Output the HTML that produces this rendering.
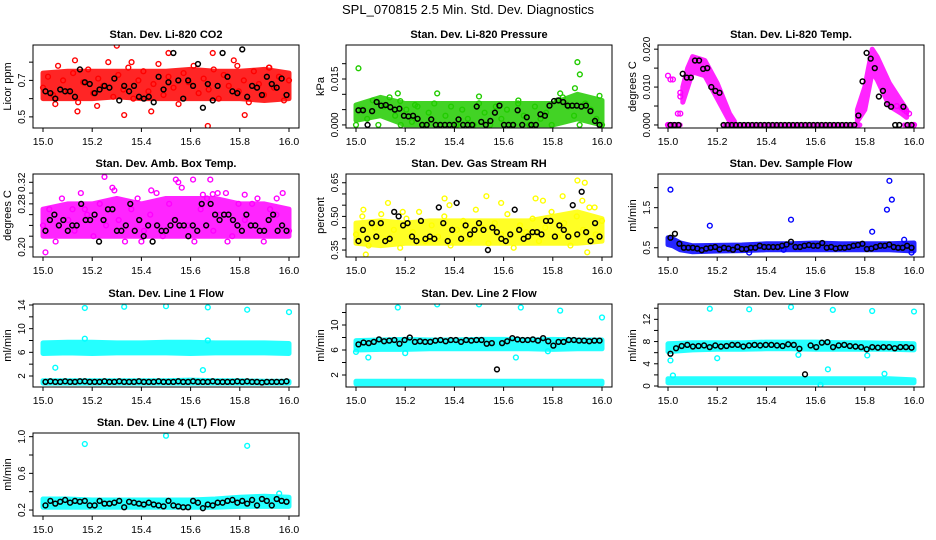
<!DOCTYPE html>
<html><head><meta charset="utf-8"><style>
html,body{margin:0;padding:0;background:#fff;}
svg{display:block;font-family:"Liberation Sans",sans-serif;}
</style></head><body>
<svg id="chart" width="936" height="540" viewBox="0 0 936 540">
<text x="468" y="14" text-anchor="middle" font-size="13">SPL_070815  2.5 Min. Std. Dev. Diagnostics</text>
</svg>
<script>
// ---- data ----
const bandX11 = [15.0,15.1,15.2,15.3,15.4,15.5,15.6,15.7,15.8,15.9,16.0];
const tempBX = [15.06,15.08,15.1,15.15,15.2,15.25,15.27];
const tempBX2 = [15.77,15.8,15.83,15.85,15.9,15.95,15.97];

const co2Lo = [.60,.60,.60,.61,.60,.60,.60,.60,.60,.59,.60];
const co2Hi = [.74,.75,.75,.75,.75,.75,.76,.75,.75,.76,.74];
const co2Col = [.66,.72,.62,.78,.70,.64,.74,.58,.69,.76,.63,.71,.67,.80,.61,.73,.65,.77,.60,.70,.75,.64,.68,.79,.62,.72,.66,.57,.74,.69,.78,.63,.71,.65,.76,.60,.73,.67,.81,.64,.70,.58,.75,.68,.62,.77,.66,.72,.59,.70];
const co2OutX = [15.30,15.51,15.69,15.13,15.67,15.33,15.82,15.44,15.14,15.05,15.36,15.92,15.79,15.22];
const co2OutY = [.89,.85,.85,.81,.45,.51,.51,.53,.53,.57,.80,.77,.78,.56];
const co2Blk = [.64,.63,.60,.65,.64,.64,.61,.76,.69,.68,.63,.65,.67,.66,.71,.59,.67,.64,.67,.61,.60,.61,.58,.72,.65,.69,.85,.70,.60,.70,.67,.79,.55,.68,.59,.67,.85,.72,.64,.63,.87,.61,.67,.66,.62,.72,.68,.66,.71,.62];

const presLo = [.0015,.003,.0,.0,0,0,0,0,0,.002,0];
const presHi = [.0065,.009,.007,.007,.007,.007,.007,.007,.007,.010,.008];
const presCol = [0,.005,.002,.008,0,.006,.009,.003,0,.005,.001,.006,0,.004,.007,0,.003,.006,0,.005,.002,0,.007,.004,0,.006,.002,.005,0,.007,.003,0,.006,.002,.004,0,.008,.009,.006,.003,0,.007,.005,.002,0];
const presOutX = [15.01,15.17,15.33,15.50,15.66,15.83,15.89,15.90,15.91,15.99,15.18,15.24];
const presOutY = [.0185,.0103,.0103,.0093,.0080,.0103,.0120,.0205,.0165,.0095,.0078,.0065];
const presBlk = [.0048,.0048,0,.0045,.0075,.0063,.0065,.0058,.0050,.0053,.0030,.0028,.0030,.0020,0,0,.0018,0,0,0,0,0,.0018,0,0,0,.0060,.0010,0,.0013,.0040,.0063,0,0,0,.0048,0,.0025,0,0,.0035,.0030,.0063,.0078,.0080,.0075,.0063,.0063,.0063,.0060,.0063,.0045,.0013,0];

const tempLo = [.006,.010,.014,.013,.007,.001,0];
const tempHi = [.010,.015,.018,.017,.011,.003,.001];
const tempLo2 = [.001,.004,.014,.012,.005,.003,.002];
const tempHi2 = [.004,.010,.020,.018,.011,.006,.004];
const tempZeroX = [15.0,15.05];
const tempZero = [0,0];
const tempZeroX2 = [15.23,15.78];
const tempZero2 = [0,0];
const tempZeroX3 = [15.96,16.0];
const tempZero3 = [0,0];
const tempCol = [.013,.012,.012,0,0,0,.003,.003,.0075,.0085,.0045,.0040,.0035,.0030,0,0,.005];
const tempColX = [15.00,15.01,15.02,15.00,15.02,15.04,15.04,15.05,15.05,15.05,15.95,15.96,15.97,15.98,15.99,16.0,15.93];
const tempBlk = [0,0,0,.0135,.0125,.0125,.017,.017,.0148,.015,.010,.009,.0085,0,0,0,0,0,0,0,0,0,0,0,0,0,0,0,0,0,0,0,0,0,0,0,0,0,0,0,0,0,0,0,0,0,.0025,.0115,.019,.0175,.0150,.0075,.0090,.0055,.0048,0,0,.0048,0,0];

const ambLo = [.22,.22,.22,.22,.22,.22,.22,.22,.22,.22,.22];
const ambHi = [.27,.28,.28,.29,.28,.29,.29,.29,.28,.28,.27];
const ambCol = [.24,.27,.21,.29,.25,.23,.30,.26,.22,.28,.24,.31,.25,.21,.27,.29,.23,.26,.30,.22,.28,.25,.31,.24,.21,.27,.29,.23,.26,.30,.22,.28,.25,.24,.29,.21,.27,.26,.30,.23];
const ambOutX = [15.25,15.54,15.55,15.61,15.68,15.01,15.29,15.44,15.71,15.82,15.40,15.75,15.85,15.95,15.65,15.69,15.17,15.12];
const ambOutY = [.33,.325,.32,.325,.325,.19,.305,.305,.30,.297,.21,.21,.28,.29,.297,.298,.27,.27];
const ambBlk = [.23,.25,.26,.24,.25,.23,.24,.24,.28,.25,.25,.26,.21,.25,.27,.27,.23,.23,.24,.28,.23,.25,.22,.24,.21,.24,.23,.23,.24,.25,.24,.24,.22,.24,.23,.28,.24,.28,.26,.25,.26,.26,.25,.24,.23,.26,.24,.24,.23,.23,.25,.26,.23,.24,.23];

const rhLo = [.38,.37,.38,.38,.38,.38,.38,.38,.38,.38,.39];
const rhHi = [.47,.48,.47,.48,.48,.48,.48,.48,.50,.52,.49];
const rhCol = [.42,.50,.37,.45,.51,.40,.44,.36,.49,.43,.52,.39,.46,.41,.50,.37,.44,.48,.40,.53,.45,.38,.47,.42,.51,.36,.46,.43,.49,.39,.45,.52,.41,.47,.37,.50,.44,.54,.42,.48];
const rhOutX = [15.04,15.13,15.36,15.38,15.53,15.59,15.73,15.76,15.84,15.90,15.93,15.92,15.97,15.94,15.03,15.19];
const rhOutY = [.33,.56,.58,.55,.59,.56,.58,.57,.59,.66,.65,.57,.54,.34,.53,.52];
const rhBlk = [.39,.44,.40,.47,.41,.47,.39,.40,.52,.50,.46,.47,.41,.39,.48,.40,.41,.40,.54,.47,.39,.44,.56,.40,.46,.42,.44,.47,.44,.35,.45,.43,.40,.39,.42,.53,.44,.40,.41,.43,.43,.42,.48,.48,.41,.46,.44,.41,.55,.42,.61,.43,.39,.47,.41];

const sfBX = [15.0,15.02,15.05,15.1,15.2,15.3,15.4,15.5,15.6,15.7,15.8,15.9,16.0];
const sfLo = [.58,.55,.45,.40,.42,.43,.45,.45,.45,.45,.45,.45,.42];
const sfHi = [.75,.72,.62,.55,.56,.57,.60,.60,.62,.60,.60,.60,.62];
const sfOutX = [15.01,15.17,15.50,15.83,15.89,15.90,15.91,15.33,15.47,15.99,15.96];
const sfOutY = [1.95,1.05,1.20,0.90,1.45,2.17,1.70,0.38,0.45,0.38,0.70];
const sfBlk = [.75,.85,.60,.50,.50,.50,.48,.44,.48,.50,.52,.46,.50,.48,.45,.52,.47,.47,.50,.50,.55,.52,.52,.52,.52,.55,.58,.65,.52,.52,.55,.57,.55,.55,.62,.50,.52,.48,.50,.50,.52,.55,.57,.60,.47,.48,.52,.55,.55,.58,.52,.50,.50,.55,.50];

const l1Lo = [5.8,5.9,5.8,5.9,5.9,5.9,5.8,5.9,5.9,5.9,5.8];
const l1Hi = [7.6,7.7,7.7,7.6,7.6,7.7,7.7,7.6,7.6,7.6,7.5];
const l1Lo2 = [0.8,0.8,0.8,0.8,0.8,0.8,0.8,0.8,0.8,0.8,0.8];
const l1Hi2 = [1.2,1.2,1.2,1.2,1.2,1.2,1.3,1.2,1.2,1.1,1.1];
const l1OutX = [15.17,15.33,15.50,15.67,15.83,16.0,15.05,15.65,15.17,15.67];
const l1OutY = [13.5,13.7,13.8,13.6,13.2,12.8,3.4,3.0,8.3,8.0];
const l1Blk = [1.0,1.1,1.0,1.0,1.1,1.0,1.0,1.1,1.1,1.0,1.0,1.0,1.1,1.0,1.0,1.1,1.0,1.0,1.0,1.1,1.0,1.0,1.0,1.1,1.0,1.0,1.0,1.1,1.0,1.0,1.1,1.0,1.0,1.0,1.1,1.0,1.0,1.0,1.0,1.1,1.0,1.1,1.0,1.0,0.9,1.0,1.0,1.0,1.0,1.1];

const l2Lo = [6.0,6.1,6.1,6.2,6.2,6.2,6.2,6.2,6.1,6.2,6.2];
const l2Hi = [7.5,7.6,7.7,7.6,7.6,7.7,7.7,7.6,7.7,7.6,7.6];
const l2Lo2 = [0.6,0.6,0.6,0.6,0.6,0.6,0.6,0.6,0.6,0.6,0.6];
const l2Hi2 = [1.0,1.0,1.0,1.0,1.0,1.0,1.0,1.0,1.0,1.0,1.0];
const l2OutX = [15.17,15.33,15.50,15.67,15.83,16.0,15.05,15.65,15.0,15.2,15.78];
const l2OutY = [12.8,13.3,13.3,12.8,12.3,11.2,4.8,4.8,5.7,5.5,5.8];
const l2Blk = [6.9,7.2,7.1,7.3,7.7,7.4,7.5,7.6,7.0,7.6,8.0,7.3,7.4,7.3,7.3,7.5,7.6,7.4,7.6,7.6,7.3,7.6,7.5,7.6,7.6,7.0,7.1,2.9,7.1,7.4,7.9,7.7,7.6,7.6,7.7,7.5,7.9,7.4,6.7,7.3,7.3,7.6,7.6,7.5,7.5,7.4,7.5,7.5];

const l3Lo = [6.2,6.5,6.6,6.6,6.7,6.7,6.6,6.6,6.6,6.6,6.5];
const l3Hi = [7.6,7.8,7.8,7.8,7.9,7.9,7.9,7.8,7.8,7.7,7.6];
const l3Lo2 = [0.6,0.6,0.6,0.6,0.6,0.6,0.6,0.6,0.6,0.6,0.6];
const l3Hi2 = [1.3,1.3,1.3,1.3,1.3,1.3,1.3,1.3,1.3,1.3,1.1];
const l3OutX = [15.17,15.33,15.50,15.67,15.83,16.0,15.01,15.2,15.53,15.81,15.65,15.02,15.88,15.62];
const l3OutY = [13.9,13.8,14.2,13.7,13.5,13.4,4.6,5.0,5.6,5.5,3.0,1.9,2.2,0.2];
const l3Blk = [5.8,6.8,7.2,7.4,7.1,7.2,7.3,7.0,7.3,7.1,7.2,7.4,7.4,7.1,7.3,7.4,7.3,7.4,7.4,7.3,7.2,7.5,7.4,6.7,2.1,7.3,7.0,7.8,7.9,7.0,7.3,7.4,7.2,7.1,7.0,6.6,7.0,6.9,7.0,7.0,6.8,7.0,7.0,6.9];

const l4Lo = [.23,.23,.23,.23,.23,.23,.23,.23,.24,.24,.24];
const l4Hi = [.32,.32,.31,.31,.31,.31,.31,.32,.34,.35,.34];
const l4OutX = [15.17,15.50,15.83,15.96];
const l4OutY = [0.92,1.01,0.90,0.38];
const l4Blk = [.25,.30,.27,.29,.31,.28,.30,.29,.30,.25,.25,.30,.27,.27,.28,.30,.23,.29,.28,.27,.26,.28,.26,.25,.24,.30,.25,.24,.23,.23,.30,.28,.22,.26,.25,.28,.28,.30,.31,.28,.30,.27,.31,.25,.32,.30,.25,.32,.30,.29];

// ticks
const co2Ticks = [0.5,0.6,0.7,0.8], co2Labs = ["0.5","","0.7",""];
const presTicks = [0,.005,.010,.015,.020], presLabs = ["0.000","","","0.015",""];
const tempTicks = [0,.005,.010,.015,.020], tempLabs = ["0.000","","0.010","","0.020"];
const ambTicks = [.20,.22,.24,.26,.28,.30,.32], ambLabs = ["0.20","","","","0.28","","0.32"];
const rhTicks = [.35,.40,.45,.50,.55,.60,.65], rhLabs = ["0.35","","","0.50","","","0.65"];
const sfTicks = [0.5,1.0,1.5,2.0], sfLabs = ["0.5","","1.5",""];
const l1Ticks = [2,4,6,8,10,12,14], l1Labs = ["2","","6","","10","","14"];
const l2Ticks = [2,4,6,8,10,12], l2Labs = ["2","","6","","10",""];
const l3Ticks = [0,2,4,6,8,10,12,14], l3Labs = ["0","","4","","8","","12",""];
const l4Ticks = [0.2,0.4,0.6,0.8,1.0], l4Labs = ["0.2","","0.6","","1.0"];
const xTicks = [15.0,15.2,15.4,15.6,15.8,16.0];
const xLabs = ["15.0","15.2","15.4","15.6","15.8","16.0"];

// ---- drawing ----
const NS = "http://www.w3.org/2000/svg";
const svg = document.getElementById('chart');
const colL = [33,346,658], rowT = [45,174,304,433], W = 266, H = 83;
function mk(tag, attrs, parent){ const e=document.createElementNS(NS,tag); for(const k in attrs) e.setAttribute(k,attrs[k]); (parent||svg).appendChild(e); return e; }

function panel(name, col, row, title, ylab, yTop, yBot, ticks, labs, color, bands, scat, blk){
  const L=colL[col], T=rowT[row], B=T+H;
  const g = mk('g',{});
  
  
  const xs = v => L+10+(v-15)*246;
  const ys = v => T+(yTop-v)/(yTop-yBot)*H;
  const t = mk('text',{x:L+W/2,y:T-7,'text-anchor':'middle','font-size':11,'font-weight':'bold'},g); t.textContent=title;
   
  const clip = mk('clipPath',{id:'c'+name},g); mk('rect',{x:L,y:T,width:W,height:H},clip);
  const pg = mk('g',{'clip-path':'url(#c'+name+')'},g);
  bands.forEach((bd,bi)=>{
    const [bx,lo,hi]=bd;
    let pts = bx.map((x,i)=>xs(x).toFixed(1)+','+ys(hi[i]).toFixed(1));
    for(let i=bx.length-1;i>=0;i--) pts.push(xs(bx[i]).toFixed(1)+','+ys(lo[i]).toFixed(1));
    const p = mk('polygon',{points:pts.join(' '),fill:color,stroke:color,'stroke-width':5,'stroke-linejoin':'round',opacity:0.85},pg);
     
  });
  scat.forEach(([sx,sy])=>{
    sy.forEach((v,i)=>{
      const x = sx ? sx[i] : 15.0 + i*(1.0/(sy.length-1));
      const c = mk('circle',{cx:xs(x),cy:ys(v),r:2.4,fill:'none',stroke:color,'stroke-width':1.4},pg);
       
    });
  });
  blk.forEach((v,i)=>{
    const x = 15.01 + i*(0.98/(blk.length-1));
    const c = mk('circle',{cx:xs(x),cy:ys(v),r:2.4,fill:'none',stroke:'#000','stroke-width':1.5},pg);
     
  });
  const box = mk('rect',{x:L,y:T,width:W,height:H,fill:'none',stroke:'#000','stroke-width':1},g);
   
  xTicks.forEach((v,i)=>{
    mk('line',{x1:xs(v),x2:xs(v),y1:B,y2:B+4,stroke:'#000'},g);
    const tl = mk('text',{x:xs(v),y:B+17,'text-anchor':'middle','font-size':10.5},g); tl.textContent=xLabs[i];
     
  });
  ticks.forEach((v,i)=>{
    const y=ys(v);
    mk('line',{x1:L,x2:L-4,y1:y,y2:y,stroke:'#000'},g);
    if(labs[i]){
      const tl = mk('text',{x:0,y:0,'text-anchor':'middle','font-size':10,transform:'translate('+(L-8)+','+y.toFixed(1)+') rotate(-90)'},g);
      tl.textContent=labs[i];
       
    }
  });
  const yt = mk('text',{x:0,y:0,'text-anchor':'middle','font-size':11,transform:'translate('+(L-22)+','+(T+H/2)+') rotate(-90)'},g);
  yt.textContent=ylab;
   
}

panel('co2',0,0,'Stan. Dev. Li-820 CO2','Licor ppm',0.894,0.439,co2Ticks,co2Labs,'#ff0000',[[bandX11,co2Lo,co2Hi]],[[null,co2Col],[co2OutX,co2OutY]],co2Blk);
panel('pressure',1,0,'Stan. Dev. Li-820 Pressure','kPa',0.0261,-0.001,presTicks,presLabs,'#22cc00',[[bandX11,presLo,presHi]],[[null,presCol],[presOutX,presOutY]],presBlk);
panel('temp',2,0,'Stan. Dev. Li-820 Temp.','degrees C',0.0211,-0.0008,tempTicks,tempLabs,'#ff00ff',[[tempBX,tempLo,tempHi],[tempBX2,tempLo2,tempHi2],[tempZeroX,tempZero,tempZero],[tempZeroX2,tempZero2,tempZero2],[tempZeroX3,tempZero3,tempZero3]],[[tempColX,tempCol]],tempBlk);
panel('amb-temp',0,1,'Stan. Dev. Amb. Box Temp.','degrees C',0.3354,0.1814,ambTicks,ambLabs,'#ff00ff',[[bandX11,ambLo,ambHi]],[[null,ambCol],[ambOutX,ambOutY]],ambBlk);
panel('rh',1,1,'Stan. Dev. Gas Stream RH','percent',0.689,0.319,rhTicks,rhLabs,'#ffff00',[[bandX11,rhLo,rhHi]],[[null,rhCol],[rhOutX,rhOutY]],rhBlk);
panel('sample-flow',2,1,'Stan. Dev. Sample Flow','ml/min',2.34,0.27,sfTicks,sfLabs,'#0000ff',[[sfBX,sfLo,sfHi]],[[sfOutX,sfOutY]],sfBlk);
panel('line1',0,2,'Stan. Dev. Line 1 Flow','ml/min',14.17,0.14,l1Ticks,l1Labs,'#00ffff',[[bandX11,l1Lo,l1Hi],[bandX11,l1Lo2,l1Hi2]],[[l1OutX,l1OutY]],l1Blk);
panel('line2',1,2,'Stan. Dev. Line 2 Flow','ml/min',13.36,0.08,l2Ticks,l2Labs,'#00ffff',[[bandX11,l2Lo,l2Hi],[bandX11,l2Lo2,l2Hi2]],[[l2OutX,l2OutY]],l2Blk);
panel('line3',2,2,'Stan. Dev. Line 3 Flow','ml/min',14.76,-0.18,l3Ticks,l3Labs,'#00ffff',[[bandX11,l3Lo,l3Hi],[bandX11,l3Lo2,l3Hi2]],[[l3OutX,l3OutY]],l3Blk);
panel('line4',0,3,'Stan. Dev. Line 4 (LT) Flow','ml/min',1.04,0.135,l4Ticks,l4Labs,'#00ffff',[[bandX11,l4Lo,l4Hi]],[[l4OutX,l4OutY]],l4Blk);
</script>
</body></html>
